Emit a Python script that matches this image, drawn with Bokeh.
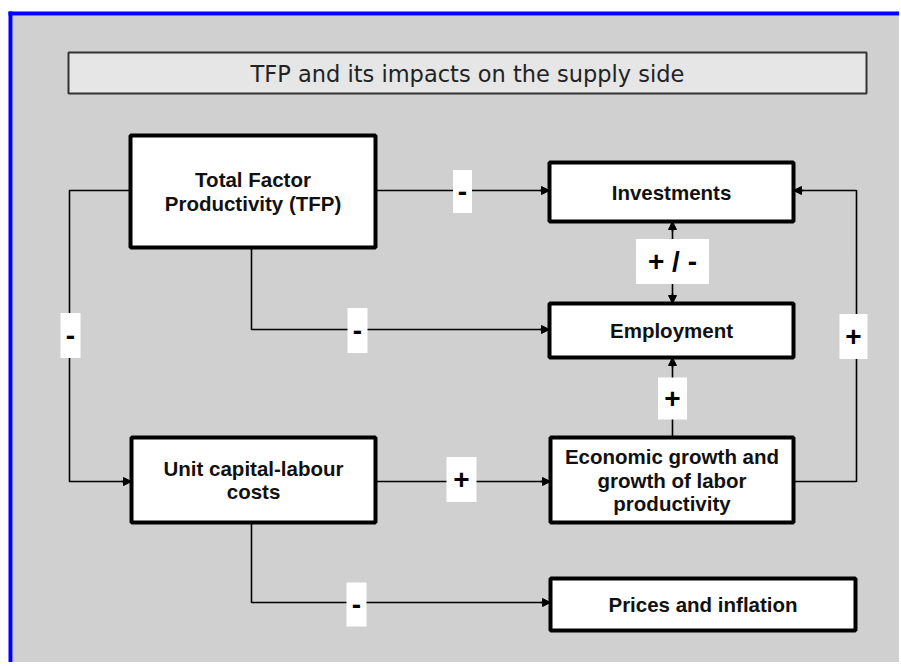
from bokeh.plotting import figure
from bokeh.models import Range1d, Arrow, NormalHead
from bokeh.core.properties import value
from bokeh.embed import file_html
from bokeh.resources import INLINE

# ---- content ----
title_text = "TFP and its impacts on the supply side"
node_labels = [
    "Total Factor\nProductivity (TFP)",
    "Investments",
    "Employment",
    "Unit capital-labour\ncosts",
    "Economic growth and\ngrowth of labor\nproductivity",
    "Prices and inflation",
]
edge_signs = ["-", "-", "-", "+ / -", "+", "+", "+", "-"]

# ---- layout (page pixel coordinates) ----
W, H = 899, 662
node_boxes = [  # left, right, top, bottom
    (130, 375, 135, 247),
    (549, 793, 162, 221),
    (549, 793, 303, 357),
    (131, 375, 437, 522),
    (550, 793, 437, 522),
    (550, 855, 578, 630),
]
edge_paths = [
    [(375, 190), (549, 190)],
    [(130, 190), (69, 190), (69, 481), (131, 481)],
    [(251, 247), (251, 329), (549, 329)],
    [(672, 221), (672, 303)],
    [(672, 437), (672, 357)],
    [(375, 481), (550, 481)],
    [(793, 481), (856, 481), (856, 190), (793, 190)],
    [(251, 522), (251, 602), (550, 602)],
]
both_ends = [False, False, False, True, False, False, False, False]
sign_boxes = [  # cx, cy, w, h
    (462, 191, 19, 43),
    (70, 335, 20, 45),
    (357, 330, 20, 45),
    (672, 261, 73, 45),
    (672, 398, 29, 42),
    (461, 479, 30, 45),
    (853, 336, 28, 45),
    (356, 604, 20, 44),
]

p = figure(width=W, height=H, output_backend="svg", toolbar_location=None,
           x_range=Range1d(0, W), y_range=Range1d(H, 0),
           x_axis_type=None, y_axis_type=None,
           min_border=0, min_border_left=0, min_border_right=0,
           min_border_top=0, min_border_bottom=0)
p.grid.visible = False
p.outline_line_color = None
p.background_fill_color = "white"
p.border_fill_color = "white"

# frame
p.quad(left=12, right=W + 5, top=15, bottom=H + 5,
       fill_color="#d0d0d0", line_color=None)
p.quad(left=8, right=12, top=11, bottom=H + 5, fill_color="#0000ff", line_color=None)
p.quad(left=8, right=W + 5, top=11, bottom=15, fill_color="#0000ff", line_color=None)

# title box
p.quad(left=68, right=866, top=52, bottom=93, fill_color="#e6e6e6",
       line_color="#333333", line_width=2)
p.text(x=[467], y=[73], text=[title_text], text_align="center", text_baseline="middle",
       text_font=value("DejaVu Sans"), text_font_size="22.5px", text_color="#222222")


def head():
    return NormalHead(size=8, fill_color="black", line_color="black", line_width=1)


def stub(a, b, length=10):
    (x0, y0), (x1, y1) = a, b
    d = ((x1 - x0) ** 2 + (y1 - y0) ** 2) ** 0.5
    return (x1 - (x1 - x0) / d * length, y1 - (y1 - y0) / d * length)


# edges
for path, both in zip(edge_paths, both_ends):
    xs = [pt[0] for pt in path]
    ys = [pt[1] for pt in path]
    p.line(xs, ys, line_color="black", line_width=1.6)
    a, b = path[-2], path[-1]
    sx, sy = stub(a, b)
    p.add_layout(Arrow(end=head(), start=None, x_start=sx, y_start=sy,
                       x_end=b[0], y_end=b[1], line_color="black", line_width=1.6))
    if both:
        sx, sy = stub(b, a)
        p.add_layout(Arrow(end=head(), start=None, x_start=sx, y_start=sy,
                           x_end=a[0], y_end=a[1], line_color="black", line_width=1.6))

# sign labels
for (cx, cy, w, h), s in zip(sign_boxes, edge_signs):
    p.rect(x=[cx], y=[cy], width=w, height=h, fill_color="white", line_color=None)
    p.text(x=[cx], y=[cy], text=[s], text_align="center", text_baseline="middle",
           text_font=value("Liberation Sans"), text_font_style="bold",
           text_font_size="28px", text_color="black")

# nodes
for (l, r, t, b), lab in zip(node_boxes, node_labels):
    p.quad(left=l, right=r, top=t, bottom=b, fill_color="white",
           line_color="black", line_width=4)
    lines = lab.split("\n")
    n = len(lines)
    lh = 23.5
    cy = (t + b) / 2
    cx = (l + r) / 2
    for i, ln in enumerate(lines):
        y = cy + (i - (n - 1) / 2) * lh
        p.text(x=[cx], y=[y], text=[ln], text_align="center", text_baseline="middle",
               text_font=value("Liberation Sans"), text_font_style="bold",
               text_font_size="20.5px", text_color="#111111")

open("out.html", "w").write(file_html(p, INLINE))
